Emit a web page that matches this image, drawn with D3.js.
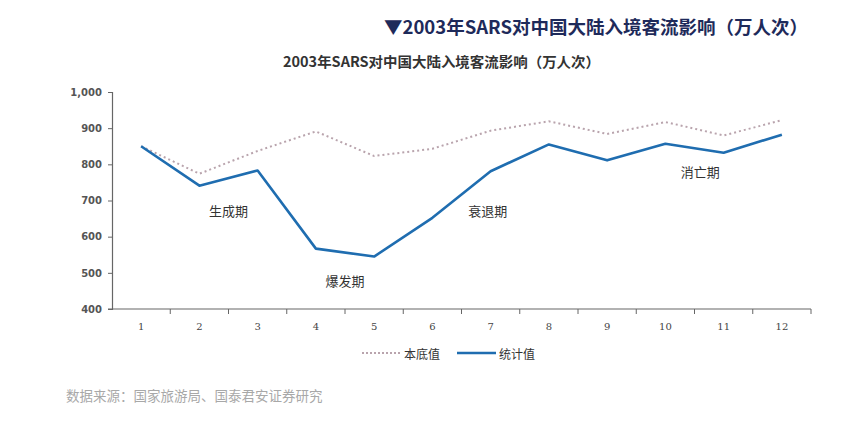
<!DOCTYPE html>
<html><head><meta charset="utf-8">
<script src="https://cdn.jsdelivr.net/npm/d3@7"></script>
<style>body{margin:0;background:#fff;}svg{display:block;}</style>
</head><body>
<svg id="c" width="864" height="421"></svg>
<script>
const months = ["1","2","3","4","5","6","7","8","9","10","11","12"];
const baseline = [850, 774, 837, 891, 823, 843, 893, 919, 884, 917, 880, 922];
const actual = [850, 741, 783, 567, 545, 652, 781, 855, 811, 857, 832, 882];
const yTicks = [400, 500, 600, 700, 800, 900, 1000];
const phases = [
  {label:"生成期", m:2.5, v:671},
  {label:"爆发期", m:4.5, v:480},
  {label:"衰退期", m:6.95, v:673},
  {label:"消亡期", m:10.6, v:779}
];
const seriesNames = ["本底值", "统计值"];

const svg = d3.select("#c");
const font = "'Noto Sans CJK SC', 'Noto Sans', sans-serif";
const plotL = 112, plotR = 811, plotT = 92, plotB = 309;

const x = d3.scaleBand().domain(months).range([plotL, plotR]);
const y = d3.scaleLinear().domain([400, 1000]).range([plotB, plotT]);
const cx = m => x(m) + x.bandwidth() / 2;
const xm = d3.scaleLinear().domain([1, 12]).range([cx("1"), cx("12")]);

// titles
svg.append("text").attr("x", 384).attr("y", 34)
  .attr("font-family", font).attr("font-weight", "bold").attr("font-size", 18)
  .attr("fill", "#1e2a5a").attr("textLength", 424).attr("lengthAdjust", "spacingAndGlyphs")
  .text("▼2003年SARS对中国大陆入境客流影响（万人次）");
svg.append("text").attr("x", 283).attr("y", 67)
  .attr("font-family", font).attr("font-weight", "bold").attr("font-size", 14)
  .attr("fill", "#333").attr("textLength", 317).attr("lengthAdjust", "spacingAndGlyphs")
  .text("2003年SARS对中国大陆入境客流影响（万人次）");

// y axis
const yAxis = svg.append("g").attr("transform", `translate(${plotL},0)`)
  .call(d3.axisLeft(y).tickValues(yTicks).tickSize(4).tickPadding(6).tickFormat(d3.format(",")));
yAxis.select(".domain").attr("stroke", "#666").attr("stroke-width", 1.2);
yAxis.selectAll(".tick line").attr("stroke", "#666");
yAxis.selectAll("text").attr("font-family", "'DejaVu Sans', sans-serif").attr("font-weight", "bold")
  .attr("font-size", 10).attr("fill", "#555");

// x axis
const xAxis = svg.append("g").attr("transform", `translate(0,${plotB})`)
  .call(d3.axisBottom(x).tickSize(0).tickPadding(14));
xAxis.select(".domain").attr("stroke", "#666").attr("stroke-width", 1.2)
  .attr("d", `M${plotL - 4},0H${plotR}`);
xAxis.selectAll("text").attr("font-family", "'DejaVu Serif', serif")
  .attr("font-size", 10).attr("fill", "#444");
const bounds = months.map(m => x(m)).concat([plotR]);
xAxis.selectAll(".bnd").data(bounds.slice(1)).join("line").attr("class", "bnd")
  .attr("x1", d => d).attr("x2", d => d).attr("y1", 0).attr("y2", 5)
  .attr("stroke", "#666");

const line = d3.line().x((d, i) => cx(months[i])).y(d => y(d));

svg.append("path").datum(baseline).attr("d", line)
  .attr("fill", "none").attr("stroke", "#b9a4ad").attr("stroke-width", 2)
  .attr("stroke-dasharray", "2,3");
svg.append("path").datum(actual).attr("d", line)
  .attr("fill", "none").attr("stroke", "#1f6db0").attr("stroke-width", 2.6)
  .attr("stroke-linejoin", "round");

// phase labels
svg.selectAll(".ph").data(phases).join("text").attr("class", "ph")
  .attr("x", d => xm(d.m)).attr("y", d => y(d.v))
  .attr("text-anchor", "middle").attr("dominant-baseline", "central")
  .attr("font-family", font).attr("font-size", 13).attr("fill", "#333")
  .text(d => d.label);

// legend
const lg = svg.append("g");
lg.append("line").attr("x1", 362).attr("x2", 400).attr("y1", 353).attr("y2", 353)
  .attr("stroke", "#b9a4ad").attr("stroke-width", 2).attr("stroke-dasharray", "2,2");
lg.append("text").attr("x", 404).attr("y", 353).attr("dominant-baseline", "central")
  .attr("font-family", font).attr("font-size", 12).attr("fill", "#333").text(seriesNames[0]);
lg.append("line").attr("x1", 457).attr("x2", 496).attr("y1", 353).attr("y2", 353)
  .attr("stroke", "#1f6db0").attr("stroke-width", 2.6);
lg.append("text").attr("x", 499).attr("y", 353).attr("dominant-baseline", "central")
  .attr("font-family", font).attr("font-size", 12).attr("fill", "#333").text(seriesNames[1]);

// source
svg.append("text").attr("x", 66).attr("y", 395).attr("dominant-baseline", "central")
  .attr("font-family", font).attr("font-size", 13.5).attr("fill", "#a8a8a8")
  .text("数据来源：国家旅游局、国泰君安证券研究");
</script>
</body></html>
